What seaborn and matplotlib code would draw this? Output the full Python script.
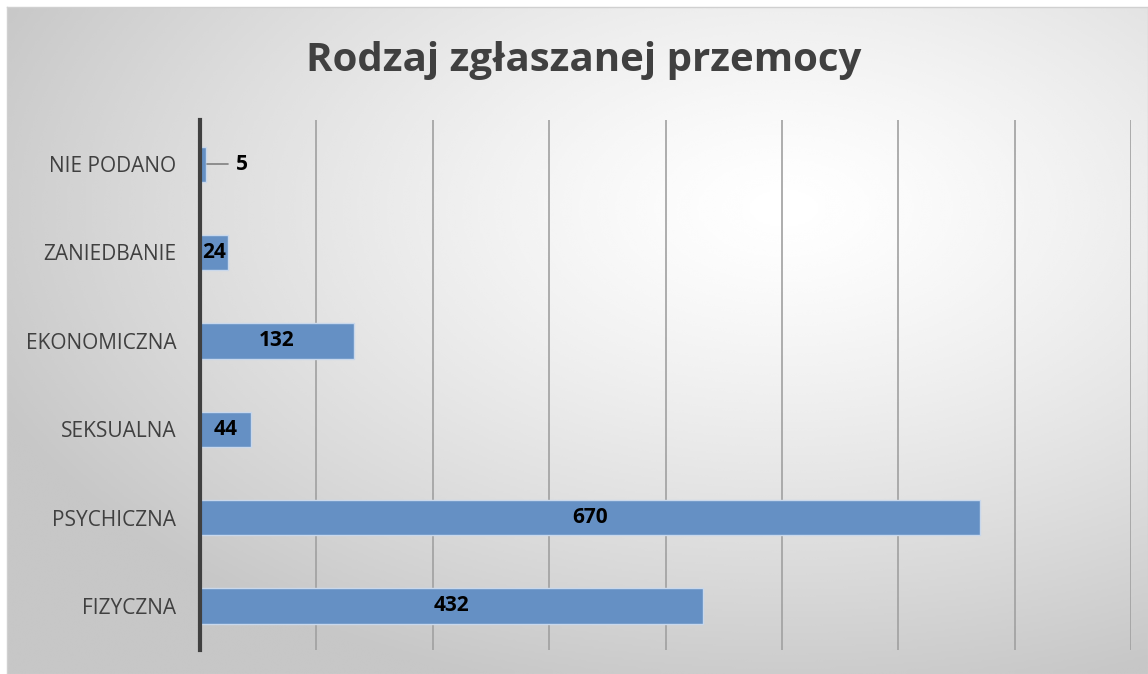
import numpy as np
import pandas as pd
import matplotlib
matplotlib.use("Agg")
import matplotlib.pyplot as plt
import seaborn as sns

categories = ["NIE PODANO", "ZANIEDBANIE", "EKONOMICZNA", "SEKSUALNA", "PSYCHICZNA", "FIZYCZNA"]
values = [5, 24, 132, 44, 670, 432]
title = "Rodzaj zgłaszanej przemocy"

df = pd.DataFrame({"kategoria": categories, "liczba": values})

sns.set_theme(style="white")
plt.rcParams['font.family'] = ['Open Sans', 'DejaVu Sans']

W, H = 1148, 674
fig = plt.figure(figsize=(W / 100, H / 100), dpi=100)
fig.patch.set_facecolor("white")

# background radial gradient
bg = fig.add_axes([7 / W, 0, 1 - 7 / W, 1 - 7 / H], zorder=0)
yy, xx = np.mgrid[0:300, 0:500]
cx, cy = 340, 90
d = np.sqrt(((xx - cx) / 500) ** 2 + ((yy - cy) / 300) ** 2)
d = np.clip(d / 0.75, 0, 1)
shade = 1.0 - 0.22 * d ** 1.3
bg.imshow(shade, cmap="gray", vmin=0, vmax=1, aspect="auto", extent=[0, 1, 0, 1], interpolation="bicubic")
bg.set_xticks([]); bg.set_yticks([])
for s in bg.spines.values():
    s.set_color("#d0d0d0"); s.set_linewidth(1)

ax = fig.add_axes([200 / W, 1 - 650 / H, (1131 - 200) / W, (650 - 120) / H], zorder=1)
ax.patch.set_alpha(0)
sns.barplot(data=df, x="liczba", y="kategoria", orient="h", color="#6590C4", saturation=1,
            width=0.4, edgecolor="#c9d8ec", linewidth=1, ax=ax)
ax.set_xlim(0, 800)
ax.set_ylim(5.5, -0.5)
ax.set_xticks(np.arange(100, 801, 100))
ax.xaxis.grid(True, color="#a0a0a0", linewidth=1.2)
ax.set_axisbelow(True)
ax.tick_params(axis="x", length=0, labelbottom=False)
ax.tick_params(axis="y", length=0, pad=17, labelsize=15, labelcolor="#404040")
ax.set_xlabel(""); ax.set_ylabel("")
for name, s in ax.spines.items():
    s.set_visible(name == "left")
ax.spines["left"].set_color("#404040")
ax.spines["left"].set_linewidth(3)

for i, v in enumerate(values):
    if v < 15:
        ax.plot([v + 1, 24], [i, i], color="#808080", linewidth=1.2)
        ax.text(31, i, str(v), ha="left", va="center", fontsize=15, fontweight="bold", color="black")
    else:
        ax.text(v / 2, i, str(v), ha="center", va="center", fontsize=15, fontweight="bold", color="black")

fig.text(584 / W, 1 - 60 / H, title, ha="center", va="center", fontsize=29, fontweight="bold", color="#404040")

fig.savefig("out.png", dpi=100)
